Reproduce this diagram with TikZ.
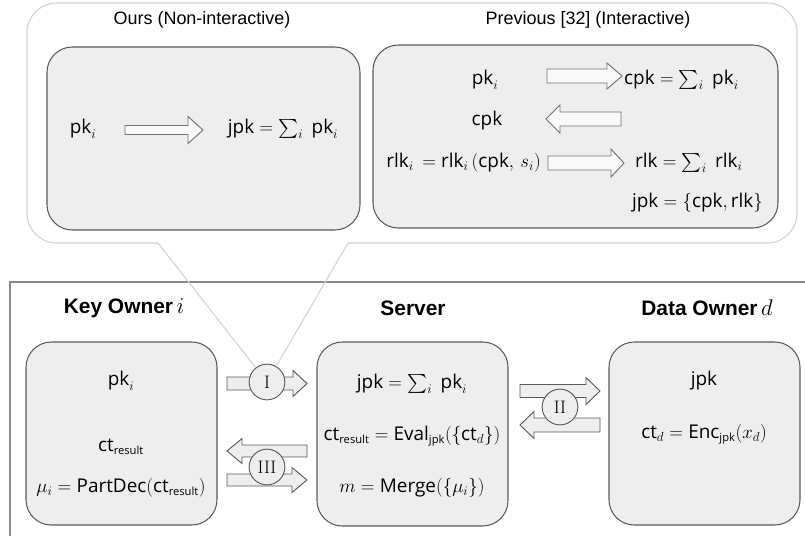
\documentclass[tikz,border=0pt]{standalone}
\usepackage{amsmath}
\usepackage{fontspec}
\newfontfamily\osans{Open Sans}
\newfontfamily\arial{Liberation Sans}
\usetikzlibrary{calc}
\newcommand\tf[1]{\text{\osans #1}}
\newcommand\sbt[1]{\hbox{\osans\fontsize{10.2}{10.2}\selectfont #1}}
\newcommand\mfont{\fontsize{17.28}{21}\selectfont}
\definecolor{boxfill}{HTML}{EEEEEE}
\definecolor{topfill}{HTML}{F9F9F9}
\definecolor{boxline}{HTML}{5A5A5A}
\definecolor{bubble}{HTML}{D2D2D2}
\definecolor{outerc}{HTML}{8A8A8A}
\tikzset{
  rbox/.style={draw=boxline, fill=boxfill, line width=0.95bp, rounded corners=23bp},
  arrowstyle/.style={draw=boxline, fill=boxfill, line width=0.85bp, line join=miter},
  toparrow/.style={arrowstyle, draw=boxline!85, fill=topfill},
  circ/.style={circle, draw=boxline, fill=boxfill, line width=0.85bp, minimum size=32.5bp, inner sep=0pt, font=\fontsize{16.5}{16.5}\selectfont},
  mtxt/.style={inner sep=0pt, font=\mfont},
  title/.style={inner sep=0pt, font=\arial\fontsize{16.4}{19}\selectfont},
  header/.style={inner sep=0pt, font=\arial\bfseries\fontsize{19.1}{22}\selectfont},
  bubbleline/.style={draw=bubble, line width=0.95bp},
}
% [style] tail x, tip x, y, shaft half, head half, head length
\newcommand\blockarrow[7][arrowstyle]{%
  \pgfmathsetmacro\hb{#3-sign(#3-#2)*#7}%
  \draw[#1] (#2,#4-#5) -- (\hb,#4-#5) -- (\hb,#4-#6) -- (#3,#4) -- (\hb,#4+#6) -- (\hb,#4+#5) -- (#2,#4+#5) -- cycle;}
\newcommand\ssum{\sum_i\;}
\begin{document}
\begin{tikzpicture}[x=0.9095bp, y=-0.9095bp]
\useasboundingbox (0,0) rectangle (805,535);
% outer frame of bottom part
\draw[draw=outerc, line width=1.45bp] (10,536) -- (10,282) -- (806,282);
% speech bubble
\coordinate (tl) at (158,243);
\coordinate (tr) at (348,243);
\draw[bubbleline, rounded corners=27bp] (tl) -- (27,243) -- (27,3) -- (797,3) -- (797,243) -- (tr);

% titles
\node[title] (t1) at (202,20) {Ours (Non-interactive)};
\node[title] (t2) at (588,20) {Previous [32] (Interactive)};

% top boxes
\draw[rbox] (47,47) rectangle (360,230);
\draw[rbox] (373,45) rectangle (778,228);

% top-left contents
\node[mtxt] (a1) at (83,129) {$\tf{pk}_i$};
\blockarrow[toparrow]{125}{203}{130}{4.5}{13.5}{15}
\node[mtxt] (a2) at (283,129) {$\tf{jpk}=\ssum\tf{pk}_i$};

% top-right contents
\node[mtxt] (b1) at (485,80) {$\tf{pk}_i$};
\blockarrow[toparrow]{547}{622}{76}{7}{13}{15}
\node[mtxt, anchor=west] (b2) at (624,80) {$\tf{cpk}=\ssum\tf{pk}_i$};
\node[mtxt] (b3) at (487,121) {$\tf{cpk}$};
\blockarrow[toparrow]{621}{546}{119}{7}{14}{14}
\node[mtxt, anchor=east] (b4) at (541,163) {$\tf{rlk}_i\,=\tf{rlk}_i\,(\tf{cpk},\,s_i)$};
\blockarrow[toparrow]{548}{624}{163}{7}{14}{13}
\node[mtxt, anchor=west] (b5) at (635,163) {$\tf{rlk}=\ssum\tf{rlk}_i$};
\node[mtxt, anchor=east] (b6) at (763,203) {$\tf{jpk}=\{\tf{cpk},\tf{rlk}\}$};

% headers
\node[header] (h1) at (124,308) {Key Owner\,$i$};
\node[header] (h2) at (413,308) {Server};
\node[header] (h3) at (707,308) {Data Owner\,$d$};

% bottom boxes
\draw[rbox] (26,342) rectangle (217,525);
\draw[rbox] (317,342) rectangle (508,526);
\draw[rbox] (609,342) rectangle (800,525);

% key owner contents
\node[mtxt] (k1) at (121,381) {$\tf{pk}_i$};
\node[mtxt] (k2) at (121,447) {$\tf{ct}_{\sbt{result}}$};
\node[mtxt] (k3) at (121,488) {$\mu_i=\tf{PartDec}(\tf{ct}_{\sbt{result}})$};

% server contents
\node[mtxt] (s1) at (412,384) {$\tf{jpk}=\ssum\tf{pk}_i$};
\node[mtxt] (s2) at (412,436) {$\tf{ct}_{\sbt{result}}=\tf{Eval}_{\sbt{jpk}}(\{\tf{ct}_d\})$};
\node[mtxt] (s3) at (412,488) {$m=\tf{Merge}(\{\mu_i\})$};

% data owner contents
\node[mtxt] (d1) at (704,381) {$\tf{jpk}$};
\node[mtxt] (d2) at (704,434) {$\tf{ct}_d=\tf{Enc}_{\sbt{jpk}}(x_d)$};

% arrows between boxes
\blockarrow{227}{307}{383.5}{6.5}{13}{14}
\blockarrow{307}{227}{451}{6}{12.5}{15}
\blockarrow{227}{307}{480}{6}{12.5}{15}
\blockarrow{520}{600}{391}{6.5}{13.5}{14}
\blockarrow{600}{520}{425}{7}{13.5}{14}

% step circles
\node[circ] (cI) at (267,382) {I};
\node[circ] (cIII) at (267,467) {III};
\node[circ] (cII) at (560,407) {II};

% bubble tail
\draw[bubbleline] (tl) -- (cI);
\draw[bubbleline] (tr) -- (cI);
\end{tikzpicture}
\end{document}
